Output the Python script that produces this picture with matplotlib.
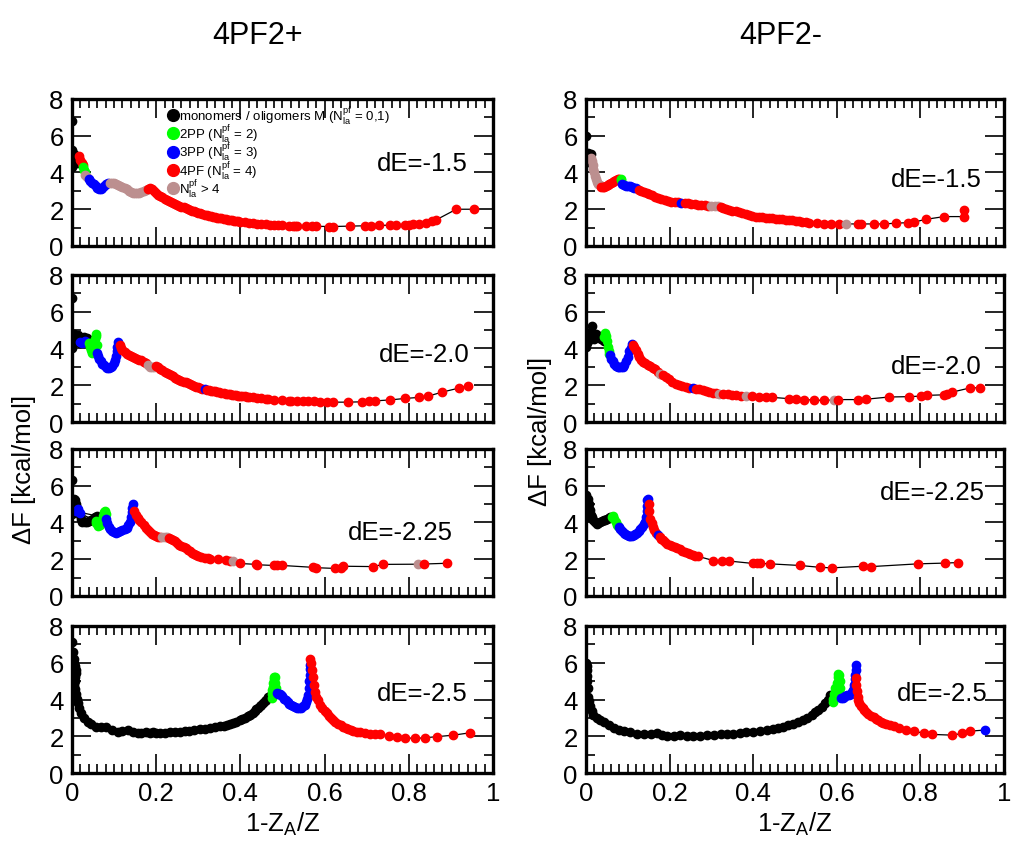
import matplotlib
matplotlib.use("Agg")
import matplotlib.pyplot as plt
from matplotlib.lines import Line2D
from matplotlib.ticker import MultipleLocator

plt.rcParams['font.family'] = ['Liberation Sans', 'DejaVu Sans']
plt.rcParams['mathtext.fontset'] = 'custom'
plt.rcParams['mathtext.rm'] = 'Liberation Sans'
plt.rcParams['mathtext.it'] = 'Liberation Sans'
plt.rcParams['mathtext.default'] = 'regular'

# class colours: M = monomers/oligomers, 2 = 2PP, 3 = 3PP, 4 = 4PF, 5 = N > 4
COLORS = {"M": "#000000", "2": "#00ff00", "3": "#0000ff", "4": "#ff0000", "5": "#bc8f8f"}
LABELS = {"M": "monomers / oligomers M (N$^{pf}_{la}$ = 0,1)",
          "2": "2PP (N$^{pf}_{la}$ = 2)",
          "3": "3PP (N$^{pf}_{la}$ = 3)",
          "4": "4PF (N$^{pf}_{la}$ = 4)",
          "5": "N$^{pf}_{la}$ > 4"}

COL_TITLES = ["4PF2+", "4PF2-"]
DE_LABELS = ["dE=-1.5", "dE=-2.0", "dE=-2.25", "dE=-2.5"]

# ---------------- 4PF2+ ----------------
L1 = [
    ("M", [0, 0, 0, 0.002, 0.004, 0.006, 0.008, 0.01, 0.012, 0.014],
          [6.8, 5.2, 4.3, 4.6, 4.9, 5.0, 4.7, 4.9, 4.5, 4.8]),
    ("4", [0.017, 0.02, 0.023, 0.026], [4.9, 4.7, 4.5, 4.4]),
    ("2", [0.027, 0.029, 0.03], [4.3, 4.15, 4.0]),
    ("5", [0.032, 0.036], [3.85, 3.75]),
    ("3", [0.04, 0.044, 0.048, 0.052, 0.056, 0.06, 0.064, 0.068, 0.072, 0.076, 0.08, 0.085],
          [3.65, 3.55, 3.45, 3.35, 3.25, 3.15, 3.1, 3.1, 3.15, 3.25, 3.35, 3.42]),
    ("5", [0.09, 0.095, 0.1, 0.105, 0.11, 0.115, 0.12, 0.125, 0.13, 0.135, 0.14, 0.145,
           0.15, 0.155, 0.16, 0.165, 0.17, 0.175],
          [3.45, 3.45, 3.42, 3.38, 3.32, 3.25, 3.2, 3.15, 3.08, 3.0, 2.95, 2.9,
           2.88, 2.87, 2.88, 2.92, 2.98, 3.05]),
    ("4", [0.18, 0.185, 0.19, 0.195, 0.2, 0.205, 0.21, 0.215, 0.22, 0.225, 0.23, 0.235,
           0.24, 0.245, 0.25, 0.255, 0.26, 0.265, 0.27, 0.275, 0.28, 0.285, 0.29, 0.295,
           0.3, 0.305, 0.31, 0.315, 0.32, 0.325, 0.33, 0.335, 0.34, 0.345, 0.35, 0.355,
           0.36, 0.365, 0.37, 0.375, 0.38, 0.385, 0.39, 0.395, 0.4, 0.41, 0.42, 0.43,
           0.44, 0.45, 0.46, 0.47, 0.48, 0.49, 0.5, 0.515, 0.525, 0.53, 0.535, 0.555,
           0.57, 0.58, 0.61, 0.62, 0.66, 0.695, 0.71, 0.73, 0.755, 0.77, 0.79, 0.8,
           0.81, 0.825, 0.84, 0.855, 0.865, 0.913, 0.955],
          [3.12, 3.15, 3.08, 2.98, 2.88, 2.8, 2.72, 2.64, 2.57, 2.5, 2.45, 2.39,
           2.34, 2.29, 2.24, 2.19, 2.14, 2.1, 2.05, 2.01, 1.97, 1.93, 1.89, 1.85,
           1.81, 1.78, 1.74, 1.71, 1.68, 1.65, 1.62, 1.6, 1.57, 1.55, 1.52, 1.5,
           1.48, 1.46, 1.44, 1.42, 1.4, 1.38, 1.36, 1.35, 1.33, 1.3, 1.27, 1.25,
           1.22, 1.2, 1.18, 1.16, 1.14, 1.13, 1.12, 1.11, 1.1, 1.1, 1.1, 1.08,
           1.07, 1.07, 1.06, 1.06, 1.08, 1.1, 1.1, 1.12, 1.13, 1.14, 1.15, 1.16,
           1.18, 1.22, 1.27, 1.35, 1.42, 2.0, 2.0]),
]

L2 = [
    ("M", [0, 0, 0.002, 0.004, 0.006, 0.008, 0.01, 0.012, 0.014, 0.016, 0.018, 0.02,
           0.024, 0.028, 0.032, 0.036, 0.04],
          [6.75, 4.05, 4.3, 4.6, 4.8, 4.5, 4.7, 4.4, 4.75, 4.5, 4.3, 4.6,
           4.45, 4.6, 4.5, 4.55, 4.45]),
    ("3", [0.02, 0.025, 0.03], [4.35, 4.3, 4.4]),
    ("2", [0.04, 0.043, 0.045, 0.047, 0.05, 0.052, 0.054, 0.056, 0.058, 0.06],
          [4.3, 4.1, 3.9, 3.75, 3.8, 4.2, 4.5, 4.8, 4.7, 4.2]),
    ("3", [0.06, 0.062, 0.065, 0.068, 0.072, 0.076, 0.08, 0.084, 0.088, 0.092, 0.096,
           0.1, 0.103, 0.105, 0.107, 0.108, 0.109],
          [3.75, 3.6, 3.45, 3.3, 3.18, 3.08, 3.0, 2.96, 2.95, 2.98, 3.05,
           3.2, 3.4, 3.6, 3.85, 4.1, 4.35]),
    ("4", [0.113, 0.117, 0.12, 0.125, 0.13, 0.135, 0.14, 0.145, 0.15, 0.155, 0.16,
           0.165, 0.17, 0.175],
          [4.2, 4.05, 3.9, 3.8, 3.72, 3.65, 3.58, 3.52, 3.48, 3.43, 3.4,
           3.35, 3.28, 3.2]),
    ("5", [0.18, 0.185, 0.19, 0.195], [3.1, 3.02, 2.98, 3.0]),
    ("4", [0.2, 0.205, 0.21, 0.215, 0.22, 0.225, 0.23, 0.235, 0.24, 0.245, 0.25, 0.255,
           0.26, 0.265, 0.27, 0.275, 0.28, 0.285, 0.29, 0.295, 0.3, 0.305, 0.31],
          [3.05, 2.98, 2.9, 2.82, 2.74, 2.67, 2.6, 2.54, 2.48, 2.42, 2.36, 2.3,
           2.25, 2.2, 2.15, 2.1, 2.05, 2.0, 1.96, 1.92, 1.89, 1.85, 1.82]),
    ("3", [0.315], [1.79]),
    ("4", [0.32, 0.325, 0.33, 0.335, 0.34, 0.345, 0.35, 0.355, 0.36, 0.365, 0.37,
           0.375, 0.38, 0.385, 0.39, 0.395, 0.4, 0.405, 0.41, 0.415, 0.42, 0.43, 0.44,
           0.45, 0.46, 0.465, 0.48, 0.5, 0.515, 0.52, 0.535, 0.55, 0.56, 0.575, 0.59,
           0.605, 0.62, 0.655, 0.69, 0.705, 0.72, 0.755, 0.79, 0.825, 0.845, 0.88,
           0.92, 0.94],
          [1.76, 1.73, 1.7, 1.68, 1.66, 1.64, 1.62, 1.6, 1.57, 1.55, 1.53,
           1.51, 1.49, 1.47, 1.45, 1.44, 1.42, 1.41, 1.4, 1.38, 1.37, 1.35, 1.33,
           1.3, 1.27, 1.25, 1.2, 1.18, 1.17, 1.16, 1.15, 1.14, 1.13, 1.12, 1.1,
           1.09, 1.08, 1.08, 1.1, 1.12, 1.15, 1.2, 1.28, 1.34, 1.4, 1.63,
           1.85, 1.98]),
]

L3 = [
    ("M", [0, 0, 0.002, 0.004, 0.006, 0.008, 0.01, 0.012, 0.015, 0.018, 0.021, 0.025,
           0.03, 0.035, 0.04, 0.045, 0.05, 0.055, 0.06],
          [6.3, 4.45, 4.8, 5.1, 5.3, 5.2, 5.0, 4.8, 4.6, 4.4, 4.2, 4.05,
           4.0, 4.05, 4.1, 4.15, 4.2, 4.3, 4.35]),
    ("3", [0.01, 0.014, 0.018], [4.6, 4.75, 4.5]),
    ("2", [0.056, 0.058, 0.062, 0.066, 0.07, 0.073, 0.076, 0.079, 0.081],
          [4.1, 3.95, 3.8, 3.85, 4.1, 4.35, 4.55, 4.65, 4.45]),
    ("3", [0.082, 0.084, 0.087, 0.09, 0.095, 0.1, 0.105, 0.11, 0.115, 0.12, 0.125,
           0.13, 0.134, 0.137, 0.14, 0.142, 0.143, 0.144],
          [4.2, 3.95, 3.75, 3.62, 3.52, 3.46, 3.44, 3.47, 3.52, 3.58, 3.65,
           3.72, 3.85, 4.05, 4.3, 4.55, 4.8, 5.0]),
    ("4", [0.148, 0.152, 0.156, 0.16, 0.165, 0.17, 0.175, 0.18, 0.185, 0.19, 0.195,
           0.2, 0.205, 0.21],
          [4.6, 4.4, 4.25, 4.15, 4.0, 3.85, 3.72, 3.6, 3.48, 3.38, 3.3,
           3.25, 3.22, 3.22]),
    ("5", [0.215, 0.22, 0.225], [3.21, 3.2, 3.2]),
    ("4", [0.23, 0.235, 0.24, 0.245, 0.25, 0.255, 0.26, 0.265, 0.27, 0.275, 0.28,
           0.285, 0.29, 0.295, 0.3, 0.307, 0.315, 0.322, 0.327, 0.347, 0.365, 0.375],
          [3.17, 3.12, 3.07, 2.98, 2.88, 2.8, 2.73, 2.66, 2.6, 2.52, 2.44,
           2.36, 2.3, 2.24, 2.2, 2.14, 2.08, 2.04, 2.01, 2.0, 1.97, 1.93]),
    ("5", [0.383], [1.9]),
    ("4", [0.398, 0.438, 0.44, 0.48, 0.487, 0.5, 0.572, 0.58, 0.625, 0.64, 0.643,
           0.714, 0.74],
          [1.77, 1.72, 1.7, 1.66, 1.66, 1.66, 1.56, 1.54, 1.5, 1.55, 1.62,
           1.6, 1.72]),
    ("5", [0.823], [1.73]),
    ("4", [0.836, 0.89], [1.74, 1.78]),
]

L4 = [
    ("M", [0, 0.002, 0.004, 0.006, 0.008, 0.01, 0.009, 0.008, 0.007, 0.006, 0.008,
           0.01, 0.012, 0.014, 0.017, 0.021, 0.028, 0.037, 0.045, 0.057, 0.07, 0.081,
           0.095, 0.109, 0.12, 0.133, 0.145, 0.156, 0.165, 0.176, 0.185, 0.192, 0.2,
           0.208, 0.22, 0.232, 0.245, 0.256, 0.268, 0.279, 0.29, 0.303, 0.315, 0.327,
           0.34, 0.351, 0.36, 0.368, 0.375, 0.382, 0.39, 0.398, 0.405, 0.412, 0.418,
           0.424, 0.43, 0.434, 0.438, 0.442, 0.446, 0.45, 0.454, 0.458, 0.462, 0.466,
           0.47, 0.474],
          [7.13, 6.6, 6.2, 5.99, 5.8, 5.63, 5.45, 5.25, 5.0, 4.8, 4.55,
           4.3, 4.05, 3.8, 3.55, 3.25, 3.0, 2.79, 2.65, 2.52, 2.48, 2.52,
           2.35, 2.25, 2.3, 2.33, 2.25, 2.19, 2.2, 2.21, 2.2, 2.21, 2.2,
           2.19, 2.2, 2.21, 2.22, 2.25, 2.27, 2.3, 2.34, 2.39, 2.42, 2.46,
           2.5, 2.54, 2.58, 2.63, 2.68, 2.73, 2.8, 2.88, 2.95, 3.02, 3.1,
           3.18, 3.28, 3.38, 3.46, 3.55, 3.63, 3.71, 3.8, 3.9, 4.0, 4.11,
           4.2, 4.26]),
    ("2", [0.474, 0.475, 0.476, 0.477, 0.478, 0.479, 0.48, 0.482, 0.483, 0.484, 0.485],
          [4.1, 4.3, 4.5, 4.7, 4.9, 5.1, 5.25, 5.2, 4.9, 4.6, 4.35]),
    ("3", [0.486, 0.49, 0.494, 0.497, 0.5, 0.504, 0.508, 0.512, 0.516, 0.52, 0.525,
           0.53, 0.535, 0.54, 0.545, 0.55, 0.553, 0.556, 0.559, 0.561, 0.563, 0.564,
           0.565, 0.566, 0.566],
          [4.35, 4.32, 4.3, 4.26, 4.18, 4.05, 3.95, 3.85, 3.75, 3.68, 3.62,
           3.57, 3.54, 3.53, 3.55, 3.62, 3.71, 3.85, 4.05, 4.26, 4.6, 5.0,
           5.35, 5.65, 5.9]),
    ("4", [0.566, 0.568, 0.57, 0.573, 0.575, 0.577, 0.58, 0.584, 0.589, 0.594, 0.6,
           0.605, 0.61, 0.615, 0.62, 0.626, 0.632, 0.638, 0.644, 0.65, 0.656, 0.662,
           0.668, 0.676, 0.684, 0.696, 0.708, 0.72, 0.732, 0.752, 0.771, 0.791, 0.815,
           0.839, 0.867, 0.906, 0.946],
          [6.2, 6.0, 5.6, 5.2, 4.8, 4.4, 4.15, 3.95, 3.71, 3.55, 3.4,
           3.25, 3.12, 3.0, 2.89, 2.78, 2.68, 2.6, 2.52, 2.45, 2.38, 2.32,
           2.28, 2.24, 2.21, 2.18, 2.15, 2.12, 2.1, 2.03, 1.97, 1.92, 1.88,
           1.92, 1.98, 2.06, 2.19]),
]

# ---------------- 4PF2- ----------------
R1 = [
    ("M", [0, 0, 0.002, 0.004, 0.006, 0.008, 0.01, 0.012, 0.004],
          [6.0, 4.6, 4.9, 5.05, 4.85, 4.95, 4.75, 5.0, 4.55]),
    ("5", [0.012, 0.014, 0.016, 0.018, 0.02, 0.022, 0.024, 0.027, 0.03, 0.033],
          [4.8, 4.6, 4.4, 4.2, 4.0, 3.8, 3.65, 3.5, 3.38, 3.3]),
    ("4", [0.036, 0.04, 0.044, 0.048, 0.052, 0.056, 0.06, 0.064, 0.068, 0.072, 0.076, 0.08],
          [3.22, 3.2, 3.22, 3.26, 3.3, 3.36, 3.42, 3.47, 3.52, 3.58, 3.63, 3.66]),
    ("2", [0.083, 0.085], [3.65, 3.6]),
    ("3", [0.086, 0.09, 0.095, 0.1, 0.105, 0.11, 0.115, 0.12],
          [3.4, 3.3, 3.25, 3.24, 3.24, 3.22, 3.18, 3.13]),
    ("4", [0.126, 0.132, 0.138, 0.145, 0.151, 0.158, 0.165, 0.172, 0.18, 0.188, 0.196,
           0.204, 0.212, 0.22],
          [3.06, 3.0, 2.95, 2.88, 2.82, 2.75, 2.67, 2.6, 2.54, 2.48, 2.44,
           2.41, 2.39, 2.37]),
    ("3", [0.228], [2.36]),
    ("4", [0.236, 0.244, 0.252, 0.26, 0.268, 0.276, 0.284, 0.292],
          [2.34, 2.32, 2.29, 2.27, 2.25, 2.23, 2.21, 2.2]),
    ("5", [0.3, 0.308, 0.316], [2.19, 2.17, 2.15]),
    ("4", [0.322, 0.328, 0.335, 0.342, 0.35, 0.358, 0.366, 0.374, 0.382, 0.39, 0.398,
           0.406, 0.414, 0.422, 0.43, 0.438, 0.446, 0.454, 0.462, 0.47, 0.478, 0.486,
           0.494, 0.502, 0.51, 0.518, 0.526, 0.534, 0.554, 0.57, 0.586, 0.606],
          [2.12, 2.07, 2.02, 1.97, 1.92, 1.88, 1.83, 1.78, 1.73, 1.68, 1.63,
           1.6, 1.58, 1.56, 1.55, 1.53, 1.51, 1.49, 1.47, 1.45, 1.43, 1.42,
           1.4, 1.37, 1.35, 1.32, 1.28, 1.26, 1.24, 1.22, 1.21, 1.2]),
    ("5", [0.622], [1.2]),
    ("4", [0.65, 0.657, 0.689, 0.713, 0.741, 0.77, 0.785, 0.813, 0.857, 0.904, 0.904],
          [1.2, 1.2, 1.2, 1.2, 1.24, 1.27, 1.3, 1.45, 1.6, 1.6, 1.96]),
]

R2 = [
    ("M", [0, 0.002, 0.004, 0.006, 0.008, 0.01, 0.012, 0.015, 0.018, 0.02, 0.024,
           0.028, 0.032, 0.036, 0.04, 0.044],
          [4.07, 4.3, 4.6, 4.4, 4.8, 4.5, 4.9, 5.2, 4.7, 4.5, 4.8,
           4.6, 4.7, 4.5, 4.55, 4.4]),
    ("2", [0.044, 0.046, 0.048, 0.05, 0.052, 0.054, 0.056],
          [4.6, 4.85, 4.7, 4.4, 4.1, 3.85, 3.72]),
    ("3", [0.058, 0.061, 0.064, 0.068, 0.072, 0.076, 0.08, 0.084, 0.088, 0.092, 0.096,
           0.1, 0.104, 0.107, 0.11],
          [3.62, 3.45, 3.3, 3.15, 3.05, 3.02, 3.0, 3.0, 3.02, 3.1, 3.3,
           3.55, 3.85, 4.05, 4.25]),
    ("4", [0.113, 0.116, 0.12, 0.124, 0.128, 0.132, 0.137, 0.142, 0.148, 0.154, 0.16,
           0.166, 0.172],
          [4.2, 4.07, 3.9, 3.71, 3.55, 3.38, 3.28, 3.2, 3.11, 3.03, 2.96,
           2.86, 2.72]),
    ("5", [0.178], [2.6]),
    ("4", [0.184, 0.191, 0.198, 0.207, 0.215, 0.223, 0.231, 0.239, 0.247],
          [2.54, 2.44, 2.32, 2.17, 2.08, 1.99, 1.95, 1.9, 1.87]),
    ("3", [0.255], [1.85]),
    ("4", [0.263, 0.271, 0.279, 0.287, 0.295, 0.303, 0.311],
          [1.81, 1.77, 1.73, 1.68, 1.63, 1.59, 1.56]),
    ("5", [0.319], [1.54]),
    ("4", [0.329, 0.339, 0.349, 0.359, 0.37], [1.53, 1.52, 1.49, 1.45, 1.43]),
    ("5", [0.382], [1.41]),
    ("4", [0.398, 0.414, 0.43, 0.446, 0.486, 0.502, 0.522, 0.546, 0.57],
          [1.39, 1.36, 1.34, 1.34, 1.27, 1.25, 1.22, 1.19, 1.18]),
    ("5", [0.594], [1.2]),
    ("4", [0.602, 0.65, 0.67, 0.725, 0.773, 0.801, 0.817, 0.857, 0.865, 0.877, 0.92, 0.944],
          [1.22, 1.22, 1.24, 1.36, 1.38, 1.41, 1.45, 1.48, 1.52, 1.63, 1.86, 1.86]),
]

R3 = [
    ("M", [0, 0, 0, 0.002, 0.004, 0.006, 0.008, 0.01, 0.012, 0.014, 0.018, 0.022,
           0.026, 0.03, 0.034, 0.038, 0.042, 0.046, 0.05, 0.054, 0.058],
          [5.5, 5.2, 4.9, 4.6, 4.3, 5.3, 5.0, 4.7, 4.4, 4.28, 4.15, 4.0,
           3.91, 3.95, 4.05, 4.09, 4.12, 4.15, 4.19, 4.24, 4.28]),
    ("2", [0.062, 0.065, 0.068, 0.071, 0.074, 0.077],
          [4.3, 4.37, 4.2, 4.0, 3.85, 3.81]),
    ("3", [0.079, 0.082, 0.086, 0.09, 0.094, 0.098, 0.102, 0.106, 0.11, 0.114, 0.118,
           0.122, 0.126, 0.13, 0.134, 0.138, 0.141, 0.143, 0.145, 0.146, 0.147, 0.148],
          [3.75, 3.65, 3.55, 3.44, 3.36, 3.3, 3.26, 3.26, 3.28, 3.32, 3.35,
           3.42, 3.52, 3.63, 3.75, 3.9, 4.05, 4.3, 4.6, 4.9, 5.2, 5.3]),
    ("4", [0.15, 0.152, 0.154, 0.157, 0.16, 0.164, 0.168],
          [5.0, 4.6, 4.2, 3.95, 3.75, 3.6, 3.45]),
    ("3", [0.172], [3.32]),
    ("4", [0.176, 0.18, 0.185, 0.19, 0.195, 0.2, 0.206, 0.212, 0.218, 0.224, 0.23,
           0.236, 0.243, 0.249, 0.256, 0.262, 0.269, 0.305, 0.325, 0.343, 0.4, 0.41,
           0.416, 0.44, 0.512, 0.56, 0.588, 0.664, 0.683, 0.795, 0.859, 0.891],
          [3.22, 3.12, 3.02, 2.93, 2.85, 2.78, 2.72, 2.66, 2.6, 2.53, 2.46,
           2.4, 2.35, 2.3, 2.25, 2.2, 2.15, 1.93, 1.91, 1.9, 1.77, 1.77,
           1.77, 1.75, 1.66, 1.56, 1.53, 1.62, 1.6, 1.75, 1.79, 1.82]),
]

R4 = [
    ("M", [0, 0.002, 0.002, 0.003, 0.002, 0.004, 0.006, 0.008, 0.01, 0.014, 0.018,
           0.026, 0.034, 0.044, 0.054, 0.066, 0.078, 0.092, 0.106, 0.122, 0.138, 0.155,
           0.17, 0.182, 0.194, 0.21, 0.225, 0.241, 0.257, 0.273, 0.289, 0.306, 0.323,
           0.337, 0.351, 0.368, 0.384, 0.4, 0.416, 0.432, 0.448, 0.46, 0.472, 0.484,
           0.496, 0.508, 0.52, 0.53, 0.54, 0.548, 0.556, 0.564, 0.572, 0.578, 0.584],
          [5.99, 5.8, 5.63, 5.3, 4.99, 4.6, 4.16, 3.9, 3.62, 3.38, 3.16,
           3.0, 2.89, 2.75, 2.61, 2.47, 2.34, 2.27, 2.21, 2.15, 2.1, 2.12,
           2.16, 2.08, 2.01, 2.04, 2.06, 2.03, 2.01, 2.04, 2.06, 2.08, 2.1,
           2.12, 2.14, 2.18, 2.21, 2.25, 2.28, 2.33, 2.39, 2.45, 2.52, 2.59,
           2.67, 2.77, 2.89, 3.02, 3.16, 3.3, 3.43, 3.6, 3.8, 4.0, 4.22]),
    ("2", [0.59, 0.592, 0.594, 0.597, 0.6, 0.602, 0.604, 0.606, 0.607, 0.608, 0.609],
          [3.85, 4.05, 4.3, 4.6, 4.9, 5.2, 5.4, 5.35, 5.0, 4.6, 4.3]),
    ("3", [0.61, 0.614, 0.617, 0.621, 0.625, 0.629, 0.633, 0.637, 0.64, 0.642, 0.643,
           0.644, 0.645, 0.645],
          [4.07, 4.1, 4.16, 4.18, 4.22, 4.26, 4.3, 4.4, 4.53, 4.8, 5.1,
           5.35, 5.6, 5.9]),
    ("4", [0.646, 0.647, 0.648, 0.65, 0.652, 0.654, 0.658, 0.662, 0.666, 0.671, 0.676,
           0.682, 0.688, 0.693, 0.698, 0.705, 0.711, 0.718, 0.727, 0.737, 0.75, 0.765,
           0.785, 0.809, 0.829, 0.877, 0.9, 0.92],
          [5.17, 4.8, 4.44, 4.15, 3.95, 3.8, 3.65, 3.53, 3.43, 3.32, 3.22,
           3.12, 3.03, 2.96, 2.89, 2.8, 2.73, 2.67, 2.62, 2.58, 2.45, 2.34,
           2.28, 2.16, 2.1, 2.06, 2.16, 2.28]),
    ("3", [0.955], [2.34]),
]

PANELS = [[L1, R1], [L2, R2], [L3, R3], [L4, R4]]
DE_POS = [[(0.94, 4.5), (0.947, 3.65)],
          [(0.945, 3.7), (0.947, 3.05)],
          [(0.905, 3.5), (0.955, 5.67)],
          [(0.94, 4.38), (0.96, 4.38)]]

fig = plt.figure(figsize=(10.12, 8.45), dpi=100)

lefts = [0.0711, 0.579]
widths = [0.416, 0.413]
bottoms = [0.7077, 0.4994, 0.2935, 0.084]
height = 0.174

for row in range(4):
    for col in range(2):
        ax = fig.add_axes([lefts[col], bottoms[row], widths[col], height])
        segs = PANELS[row][col]
        xs = [x for s in segs for x in s[1]]
        ys = [y for s in segs for y in s[2]]
        ax.plot(xs, ys, color='black', lw=0.9, zorder=1)
        for cls, sx, sy in segs:
            ax.plot(sx, sy, 'o', color=COLORS[cls], ms=6, mec=COLORS[cls], zorder=2)
        ax.set_xlim(0, 1)
        ax.set_ylim(0, 8)
        ax.xaxis.set_major_locator(MultipleLocator(0.2))
        ax.xaxis.set_minor_locator(MultipleLocator(0.02))
        ax.yaxis.set_major_locator(MultipleLocator(2))
        ax.yaxis.set_minor_locator(MultipleLocator(1))
        ax.tick_params(which='both', direction='in', top=True, right=True, labelsize=18.5)
        ax.tick_params(which='major', length=14, width=1.2, pad=6)
        ax.tick_params(which='minor', length=6.5, width=1.2)
        for sp in ax.spines.values():
            sp.set_linewidth(2.4)
        ax.xaxis.set_major_formatter(plt.FuncFormatter(lambda v, p: '%g' % v))
        if row < 3:
            ax.set_xticklabels([])
        else:
            ax.set_xlabel('1-Z$_A$/Z', fontsize=18.5, labelpad=3)
        tx, ty = DE_POS[row][col]
        ax.text(tx, ty, DE_LABELS[row], ha='right', va='center', fontsize=18.5)
        if row == 0:
            ax.set_title(COL_TITLES[col], fontsize=22, pad=40,
                         x=0.44 if col == 0 else 0.465)
        if row == 0 and col == 0:
            handles = [Line2D([], [], marker='o', ls='none', color=COLORS[k],
                              mec=COLORS[k], ms=8.5) for k in ["M", "2", "3", "4", "5"]]
            ax.legend(handles, [LABELS[k] for k in ["M", "2", "3", "4", "5"]],
                      loc='upper left', bbox_to_anchor=(0.23, 0.965), frameon=False,
                      fontsize=9.5, handlelength=0.7, handletextpad=0.1,
                      borderpad=0, borderaxespad=0, labelspacing=-0.26)

fig.text(0.024, 0.444, 'ΔF [kcal/mol]', rotation=90, ha='center', va='center', fontsize=18.5)
fig.text(0.534, 0.49, 'ΔF [kcal/mol]', rotation=90, ha='center', va='center', fontsize=18.5)

fig.savefig('out.png', dpi=100)
